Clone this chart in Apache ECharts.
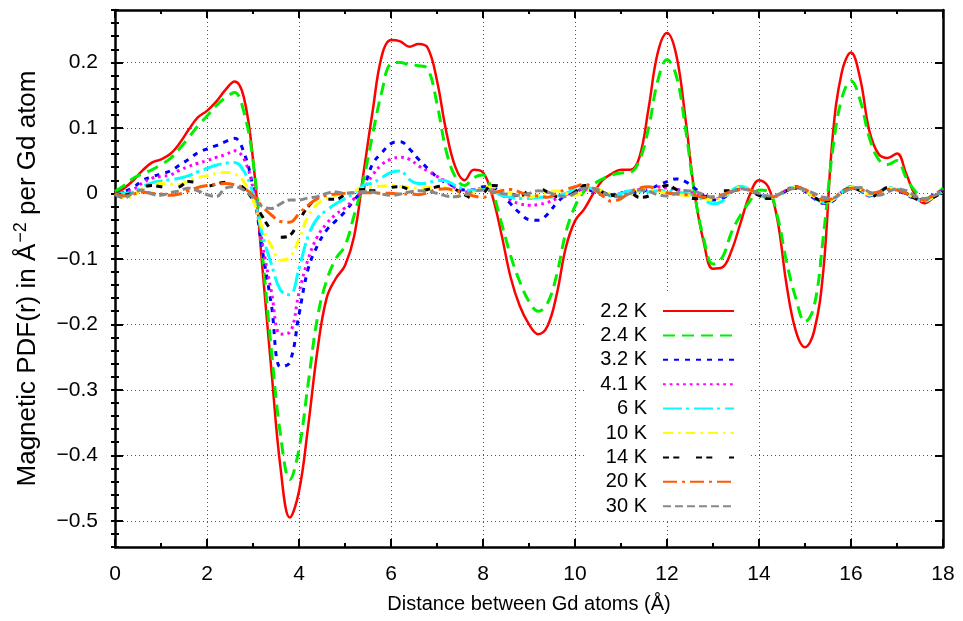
<!DOCTYPE html>
<html>
<head>
<meta charset="utf-8">
<title>Magnetic PDF of Gd</title>
<script src="https://cdn.jsdelivr.net/npm/echarts@6/dist/echarts.min.js"></script>
<style>
  html, body { margin: 0; padding: 0; background: #fff; }
  #chart { width: 963px; height: 621px; }
</style>
</head>
<body>
<div id="chart"></div>
<script>
// Radial sampling grid (Å), 0 to 18 in steps of 0.2
const rGrid = Array.from({ length: 91 }, (_, i) => +(i * 0.2).toFixed(1));

const temperatures = ['2.2 K', '2.4 K', '3.2 K', '4.1 K', '6 K', '10 K', '14 K', '20 K', '30 K'];

// Magnetic PDF values, one row per 2 Å (10 samples each), last value at r = 18
const pdf2p2K = [
  0.000, 0.008, 0.020, 0.035, 0.047, 0.052, 0.060, 0.076, 0.097, 0.116,
  0.126, 0.140, 0.158, 0.171, 0.147, 0.052, -0.110, -0.270, -0.420, -0.495,
  -0.455, -0.355, -0.240, -0.160, -0.130, -0.110, -0.065, 0.030, 0.125, 0.210,
  0.234, 0.232, 0.224, 0.228, 0.222, 0.172, 0.095, 0.040, 0.020, 0.036,
  0.032, -0.003, -0.062, -0.128, -0.172, -0.200, -0.215, -0.203, -0.155, -0.083,
  -0.042, -0.024, 0.000, 0.020, 0.030, 0.036, 0.036, 0.055, 0.130, 0.215,
  0.245, 0.212, 0.115, 0.000, -0.075, -0.115, -0.113, -0.088, -0.045, -0.002,
  0.020, 0.010, -0.040, -0.140, -0.210, -0.235, -0.210, -0.117, 0.085, 0.185,
  0.215, 0.175, 0.095, 0.060, 0.054, 0.061, 0.030, -0.003, -0.015, -0.006,
  0.005
];
const pdf2p4K = [
  0.003, 0.012, 0.023, 0.030, 0.036, 0.044, 0.053, 0.068, 0.085, 0.103,
  0.118, 0.134, 0.146, 0.154, 0.125, 0.050, -0.090, -0.240, -0.370, -0.437,
  -0.390, -0.290, -0.190, -0.133, -0.100, -0.080, -0.033, 0.020, 0.090, 0.155,
  0.198, 0.200, 0.196, 0.195, 0.190, 0.137, 0.065, 0.025, 0.012, 0.024,
  0.028, 0.003, -0.045, -0.095, -0.135, -0.165, -0.180, -0.168, -0.125, -0.060,
  -0.020, 0.003, 0.014, 0.022, 0.028, 0.031, 0.032, 0.050, 0.100, 0.172,
  0.204, 0.180, 0.100, 0.000, -0.070, -0.108, -0.098, -0.060, -0.033, -0.012,
  0.005, 0.003, -0.035, -0.105, -0.160, -0.196, -0.172, -0.065, 0.065, 0.145,
  0.172, 0.142, 0.085, 0.052, 0.044, 0.050, 0.024, 0.003, -0.008, -0.004,
  0.008
];
const pdf3p2K = [
  0.000, 0.003, 0.009, 0.020, 0.025, 0.030, 0.034, 0.043, 0.052, 0.062,
  0.068, 0.073, 0.079, 0.084, 0.063, 0.008, -0.085, -0.170, -0.265, -0.258,
  -0.185, -0.115, -0.080, -0.056, -0.042, -0.028, -0.010, 0.008, 0.045, 0.062,
  0.076, 0.079, 0.068, 0.052, 0.038, 0.025, 0.016, 0.010, 0.005, 0.005,
  0.010, 0.009, 0.000, -0.016, -0.030, -0.040, -0.041, -0.032, -0.015, -0.003,
  0.002, 0.007, 0.003, -0.002, -0.002, 0.001, 0.002, 0.002, 0.006, 0.012,
  0.018, 0.022, 0.018, 0.008, -0.004, -0.010, -0.008, 0.002, 0.008, 0.004,
  -0.002, -0.006, -0.004, 0.004, 0.008, 0.003, -0.008, -0.015, -0.012, 0.002,
  0.009, 0.004, -0.004, 0.002, 0.008, 0.005, -0.002, -0.008, -0.010, -0.002,
  0.004
];
const pdf4p1K = [
  0.000, 0.002, 0.006, 0.016, 0.023, 0.026, 0.028, 0.035, 0.041, 0.046,
  0.050, 0.055, 0.059, 0.065, 0.053, 0.008, -0.075, -0.150, -0.215, -0.212,
  -0.152, -0.100, -0.066, -0.046, -0.032, -0.022, -0.008, 0.006, 0.028, 0.044,
  0.052, 0.055, 0.052, 0.042, 0.034, 0.026, 0.018, 0.008, 0.002, 0.004,
  0.008, 0.006, -0.002, -0.010, -0.016, -0.018, -0.017, -0.014, -0.008, -0.002,
  0.003, 0.006, 0.004, 0.000, -0.003, 0.000, 0.004, 0.006, 0.008, 0.010,
  0.008, 0.006, 0.004, 0.000, -0.004, -0.008, -0.006, 0.003, 0.009, 0.005,
  -0.002, -0.006, -0.003, 0.005, 0.009, 0.003, -0.007, -0.013, -0.010, 0.003,
  0.010, 0.005, -0.004, 0.000, 0.008, 0.006, -0.001, -0.008, -0.011, -0.004,
  0.004
];
const pdf6K = [
  0.000, 0.000, 0.002, 0.010, 0.016, 0.019, 0.021, 0.023, 0.027, 0.033,
  0.038, 0.043, 0.046, 0.047, 0.034, 0.000, -0.062, -0.108, -0.148, -0.155,
  -0.115, -0.065, -0.038, -0.026, -0.016, -0.008, 0.000, 0.012, 0.016, 0.024,
  0.032, 0.034, 0.021, 0.015, 0.016, 0.020, 0.019, 0.012, 0.006, 0.004,
  0.006, 0.004, -0.003, -0.006, -0.008, -0.008, -0.006, -0.006, -0.004, 0.000,
  0.006, 0.010, 0.006, -0.002, -0.004, 0.000, 0.004, 0.003, 0.002, 0.004,
  0.004, 0.002, 0.000, -0.004, -0.010, -0.016, -0.012, 0.004, 0.011, 0.006,
  -0.002, -0.007, -0.004, 0.005, 0.010, 0.004, -0.006, -0.014, -0.011, 0.002,
  0.010, 0.006, -0.003, 0.001, 0.009, 0.007, 0.000, -0.008, -0.012, -0.005,
  0.003
];
const pdf10K = [
  0.000, -0.007, -0.004, 0.007, 0.012, 0.015, 0.014, 0.013, 0.020, 0.024,
  0.027, 0.030, 0.032, 0.030, 0.018, -0.010, -0.052, -0.080, -0.102, -0.098,
  -0.070, -0.035, -0.016, -0.008, -0.003, 0.000, 0.004, 0.008, 0.010, 0.011,
  0.012, 0.011, 0.009, 0.008, 0.009, 0.010, 0.008, 0.002, -0.003, 0.002,
  0.008, 0.010, 0.005, 0.000, -0.004, -0.006, -0.003, 0.002, 0.004, 0.000,
  -0.003, 0.003, 0.008, 0.004, -0.002, -0.005, -0.002, 0.004, 0.007, 0.004,
  0.000, -0.002, -0.003, -0.005, -0.008, -0.010, -0.006, 0.004, 0.009, 0.005,
  -0.002, -0.006, -0.004, 0.004, 0.009, 0.004, -0.005, -0.013, -0.010, 0.002,
  0.009, 0.006, -0.002, 0.001, 0.008, 0.007, 0.001, -0.007, -0.011, -0.005,
  0.003
];
const pdf14K = [
  0.000, -0.002, 0.001, 0.009, 0.012, 0.010, 0.008, 0.010, 0.018, 0.016,
  0.011, 0.014, 0.017, 0.016, 0.008, -0.010, -0.035, -0.056, -0.067, -0.064,
  -0.042, -0.020, -0.010, -0.009, -0.009, -0.002, 0.004, 0.006, 0.004, 0.005,
  0.009, 0.010, 0.006, 0.004, 0.006, 0.010, 0.012, 0.006, -0.002, -0.008,
  0.000, 0.012, 0.010, 0.000, -0.004, 0.004, 0.008, 0.002, -0.005, -0.006,
  0.002, 0.012, 0.010, 0.002, -0.003, -0.004, 0.000, -0.006, -0.004, 0.006,
  0.012, 0.006, -0.003, -0.008, -0.006, 0.000, 0.004, 0.004, 0.006, 0.004,
  -0.003, -0.008, -0.005, 0.004, 0.010, 0.004, -0.006, -0.012, -0.009, 0.002,
  0.008, 0.004, -0.006, 0.000, 0.009, 0.007, 0.000, -0.008, -0.012, -0.006,
  0.003
];
const pdf20K = [
  0.000, -0.004, -0.001, 0.002, 0.000, -0.001, -0.003, -0.001, 0.004, 0.009,
  0.012, 0.014, 0.015, 0.013, 0.008, -0.003, -0.020, -0.033, -0.043, -0.044,
  -0.031, -0.018, -0.008, -0.003, -0.001, 0.000, 0.001, 0.001, 0.001, 0.000,
  0.000, -0.001, -0.001, -0.002, 0.001, 0.006, 0.007, 0.004, 0.000, -0.004,
  -0.006, 0.000, 0.004, 0.006, 0.002, -0.003, -0.004, -0.006, 0.000, 0.006,
  0.010, 0.014, 0.008, -0.004, -0.012, -0.008, 0.002, 0.008, 0.010, 0.006,
  0.001, -0.001, -0.002, -0.003, -0.006, -0.005, -0.002, 0.003, 0.006, 0.005,
  0.000, -0.006, -0.003, 0.006, 0.010, 0.006, -0.003, -0.010, -0.008, 0.002,
  0.008, 0.007, 0.000, 0.002, 0.006, 0.005, 0.000, -0.006, -0.010, -0.002,
  0.006
];
const pdf30K = [
  -0.002, -0.007, 0.001, 0.005, -0.001, -0.003, 0.001, 0.004, 0.008, 0.004,
  -0.002, -0.005, 0.008, 0.010, 0.005, -0.006, -0.020, -0.023, -0.016, -0.010,
  -0.010, -0.007, -0.005, 0.000, 0.002, 0.000, 0.001, 0.003, 0.002, -0.001,
  -0.003, -0.001, 0.002, 0.004, 0.003, 0.000, -0.004, -0.005, -0.002, 0.003,
  0.005, 0.003, 0.000, -0.002, -0.003, 0.000, 0.004, 0.002, -0.003, -0.005,
  0.000, 0.008, 0.008, 0.002, -0.004, -0.005, 0.000, 0.005, 0.003, -0.002,
  -0.004, 0.000, 0.004, 0.003, -0.002, -0.006, -0.004, 0.002, 0.007, 0.005,
  0.000, -0.004, -0.002, 0.004, 0.008, 0.005, 0.000, -0.006, -0.007, 0.000,
  0.007, 0.009, 0.002, -0.003, 0.002, 0.007, 0.004, -0.004, -0.008, -0.004,
  0.004
];

const yTickValues = [-0.5, -0.4, -0.3, -0.2, -0.1, 0, 0.1, 0.2];

const seriesValues = [pdf2p2K, pdf2p4K, pdf3p2K, pdf4p1K, pdf6K, pdf10K, pdf14K, pdf20K, pdf30K];
const seriesColors = ['#ff0000', '#00ee00', '#0000ff', '#ff00ff', '#00ffff', '#ffff00', '#000000', '#ff5a00', '#888888'];
const seriesDashes = [
  'solid',
  [12, 7],
  [5, 6],
  [2.7, 4],
  [19, 4, 3, 5],
  [10, 5, 2.5, 5],
  [6, 4.3, 6, 16.7],
  [14, 5, 3, 5],
  [8, 4]
];
const seriesWidths = [2.5, 3, 3, 3, 3, 3, 3, 3, 3];

const FONT = '"Liberation Sans", Arial, Helvetica, sans-serif';
const gridLine = { show: true, lineStyle: { color: '#555', width: 1, type: [1, 3] } };
const frameLine = { show: true, onZero: false, lineStyle: { color: '#000', width: 2.5 } };

const chart = echarts.init(document.getElementById('chart'), null, { renderer: 'canvas' });

const series = temperatures.map((name, i) => ({
  name: name,
  type: 'line',
  xAxisIndex: 0,
  yAxisIndex: 0,
  showSymbol: false,
  symbol: 'none',
  smooth: 0.4,
  lineStyle: { color: seriesColors[i], width: seriesWidths[i], type: seriesDashes[i] },
  itemStyle: { color: seriesColors[i] },
  data: rGrid.map((r, k) => [r, seriesValues[i][k]]),
  z: 2 + i * 0.01
}));

const yFmt = v => (Math.abs(v) < 1e-9 ? '0' : v.toFixed(1).replace('-', '\u2212'));

chart.setOption({
  animation: false,
  backgroundColor: '#fff',
  textStyle: { fontFamily: FONT },
  grid: { left: 115, right: 20, top: 10, bottom: 74, containLabel: false },
  legend: {
    data: temperatures,
    orient: 'vertical',
    align: 'right',
    right: 213,
    top: 293,
    itemWidth: 71,
    itemHeight: 14,
    itemGap: 4.4,
    padding: [8, 15, 3, 15],
    backgroundColor: '#ffffff',
    selectedMode: false,
    itemStyle: { opacity: 0 },
    textStyle: { fontFamily: FONT, fontSize: 20, color: '#000', padding: [0, 11, 0, 0] }
  },
  xAxis: [
    {
      type: 'value', position: 'bottom', min: 0, max: 18, interval: 2,
      name: 'Distance between Gd atoms (Å)', nameLocation: 'middle', nameGap: 47,
      nameTextStyle: { fontFamily: FONT, fontSize: 20, color: '#000' },
      axisLine: frameLine,
      axisTick: { inside: true, length: 8, lineStyle: { color: '#000', width: 2 } },
      minorTick: { show: true, splitNumber: 2, length: 4, lineStyle: { color: '#000', width: 2 } },
      axisLabel: { fontFamily: FONT, fontSize: 21, color: '#000', margin: 17 },
      splitLine: gridLine
    },
    {
      type: 'value', position: 'top', min: 0, max: 18, interval: 2,
      axisLine: frameLine,
      axisTick: { inside: true, length: 8, lineStyle: { color: '#000', width: 2 } },
      minorTick: { show: true, splitNumber: 2, length: 4, lineStyle: { color: '#000', width: 2 } },
      axisLabel: { show: false },
      splitLine: { show: false }
    }
  ],
  yAxis: [
    {
      type: 'value', position: 'left', min: -0.54, max: 0.28,
      name: 'Magnetic PDF(r) in Å{sup|\u22122} per Gd atom',
      nameLocation: 'middle', nameGap: 72, nameRotate: 90,
      nameTextStyle: {
        fontFamily: FONT, fontSize: 26, color: '#000',
        rich: { sup: { fontFamily: FONT, fontSize: 18, color: '#000', verticalAlign: 'bottom', padding: [0, 0, 13, 1] } }
      },
      axisLine: frameLine,
      axisTick: { inside: true, length: 8, customValues: yTickValues, lineStyle: { color: '#000', width: 2 } },
      axisLabel: { fontFamily: FONT, fontSize: 21, color: '#000', margin: 17, customValues: yTickValues, formatter: yFmt },
      splitLine: gridLine
    },
    {
      type: 'value', position: 'right', min: -0.54, max: 0.28,
      axisLine: frameLine,
      axisTick: { inside: true, length: 8, customValues: yTickValues, lineStyle: { color: '#000', width: 2 } },
      axisLabel: { show: false },
      splitLine: { show: false }
    },
    {
      type: 'value', position: 'left', min: -0.54, max: 0.28, interval: 0.02,
      axisLine: { show: false },
      axisTick: { inside: true, length: 4, lineStyle: { color: '#000', width: 2 } },
      axisLabel: { show: false },
      splitLine: { show: false }
    },
    {
      type: 'value', position: 'right', min: -0.54, max: 0.28, interval: 0.02,
      axisLine: { show: false },
      axisTick: { inside: true, length: 4, lineStyle: { color: '#000', width: 2 } },
      axisLabel: { show: false },
      splitLine: { show: false }
    }
  ],
  series: series
});
</script>
</body>
</html>
